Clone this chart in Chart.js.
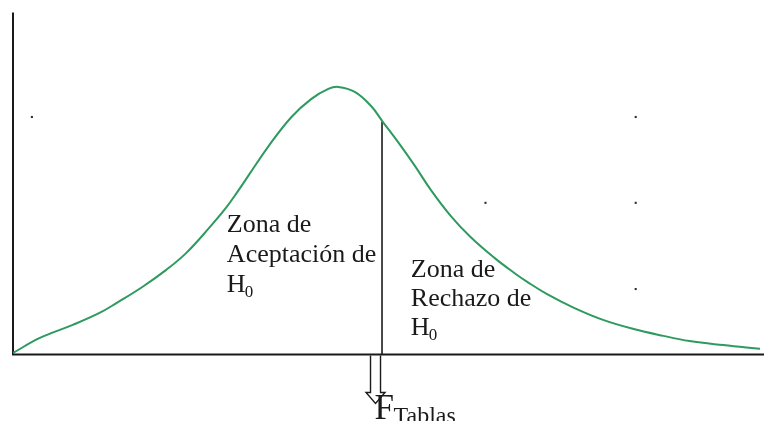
<!DOCTYPE html>
<html>
<head>
<meta charset="utf-8">
<script src="https://cdn.jsdelivr.net/npm/chart.js@4/dist/chart.umd.min.js"></script>
<style>
  html, body { margin: 0; padding: 0; background: #ffffff; }
  #wrap { width: 764px; height: 421px; position: relative; }
</style>
</head>
<body>
<div id="wrap"><canvas id="c"></canvas></div>
<script>
// F distribution sketch: density curve, critical value and decision zones
const curveX = [0, 3.60, 7.99, 11.58, 13.85, 17.31, 20.51, 23.17, 26.23, 28.50, 30.23, 31.56, 34.22, 37.28, 39.95, 42.21, 43.54, 45.81, 47.94, 49.53, 51.53, 53.80, 55.93, 58.59, 61.25, 64.45, 67.11, 68.84, 71.50, 75.10, 79.09, 83.09, 87.08, 90.55, 95.07, 100];
const curveY = [0.003, 0.047, 0.085, 0.120, 0.149, 0.196, 0.246, 0.295, 0.368, 0.427, 0.480, 0.523, 0.608, 0.693, 0.746, 0.775, 0.781, 0.766, 0.725, 0.678, 0.620, 0.550, 0.480, 0.404, 0.342, 0.281, 0.237, 0.211, 0.175, 0.135, 0.099, 0.073, 0.053, 0.038, 0.026, 0.015];

// critical value F_tablas and the curve height there
const fTablas = 49.4;
const fTablasHeight = 0.680;

// stray marker dots
const dotX = [2.53, 83.36, 83.36, 63.25, 83.36];
const dotY = [0.693, 0.693, 0.442, 0.442, 0.190];

const leftLabel = ['Zona de', 'Aceptación de', 'H'];
const rightLabel = ['Zona de', 'Rechazo de', 'H'];
const subIndex = '0';
const criticalLabel = ['F', 'Tablas'];

const curvePoints = curveX.map((x, i) => ({ x: x, y: curveY[i] }));
const dotPoints = dotX.map((x, i) => ({ x: x, y: dotY[i] }));

const serif = "'Liberation Serif', 'Times New Roman', serif";
const ink = '#1a1a1a';

const axesPlugin = {
  id: 'axesLines',
  beforeDatasetsDraw(chart) {
    const { ctx, scales: { x, y } } = chart;
    const x0 = x.getPixelForValue(0);
    const y0 = y.getPixelForValue(0);
    ctx.save();
    ctx.strokeStyle = ink;
    ctx.lineWidth = 2;
    ctx.beginPath();
    ctx.moveTo(x0, y.getPixelForValue(1) + 0.5);
    ctx.lineTo(x0, y0 + 1);
    ctx.stroke();
    ctx.beginPath();
    ctx.moveTo(x0 - 1, y0 + 0.5);
    ctx.lineTo(chart.width, y0 + 0.5);
    ctx.stroke();
    ctx.restore();
  }
};

function drawLines(ctx, lines, px, py, gap, size) {
  lines.forEach((t, i) => {
    const by = py + i * gap;
    ctx.font = size + 'px ' + serif;
    ctx.fillText(t, px, by);
    if (i === lines.length - 1) {
      const w = ctx.measureText(t).width;
      ctx.font = Math.round(size * 0.66) + 'px ' + serif;
      ctx.fillText(subIndex, px + w - 1, by + 5);
    }
  });
}

const labelsPlugin = {
  id: 'zoneLabels',
  afterDatasetsDraw(chart) {
    const { ctx, scales: { x, y } } = chart;
    ctx.save();
    ctx.fillStyle = ink;
    ctx.textBaseline = 'alphabetic';
    drawLines(ctx, leftLabel, x.getPixelForValue(28.63), y.getPixelForValue(0.358), 30, 26);
    drawLines(ctx, rightLabel, x.getPixelForValue(53.26), y.getPixelForValue(0.224), 29, 26);

    // hollow arrow pointing down from the critical value
    const cx = x.getPixelForValue(fTablas) - 6.5;
    const top = y.getPixelForValue(0) + 1.5;
    ctx.strokeStyle = ink;
    ctx.lineWidth = 1.4;
    ctx.beginPath();
    ctx.moveTo(cx - 5, top);
    ctx.lineTo(cx - 5, top + 37);
    ctx.lineTo(cx - 9.5, top + 37);
    ctx.lineTo(cx, top + 48);
    ctx.lineTo(cx + 9.5, top + 37);
    ctx.lineTo(cx + 5, top + 37);
    ctx.lineTo(cx + 5, top);
    ctx.stroke();

    ctx.font = '35px ' + serif;
    ctx.fillText(criticalLabel[0], cx - 1, top + 63);
    ctx.font = '24px ' + serif;
    ctx.fillText(criticalLabel[1], cx + 18, top + 67);
    ctx.restore();
  }
};

new Chart(document.getElementById('c'), {
  type: 'scatter',
  data: {
    datasets: [
      {
        data: curvePoints,
        showLine: true,
        borderColor: '#2e9a5f',
        borderWidth: 2,
        pointRadius: 0,
        tension: 0.4,
        fill: false
      },
      {
        data: [{ x: fTablas, y: 0 }, { x: fTablas, y: fTablasHeight }],
        showLine: true,
        borderColor: ink,
        borderWidth: 1.6,
        pointRadius: 0
      },
      {
        data: dotPoints,
        showLine: false,
        pointStyle: 'rect',
        pointRadius: 1.5,
        borderWidth: 0,
        backgroundColor: '#333333'
      }
    ]
  },
  options: {
    responsive: true,
    maintainAspectRatio: false,
    animation: false,
    layout: { padding: { left: 13, right: 0, top: 12, bottom: 67 } },
    plugins: { legend: { display: false }, tooltip: { enabled: false } },
    scales: {
      x: { type: 'linear', min: 0, max: 100, display: false },
      y: { type: 'linear', min: 0, max: 1, display: false }
    }
  },
  plugins: [axesPlugin, labelsPlugin]
});
</script>
</body>
</html>
